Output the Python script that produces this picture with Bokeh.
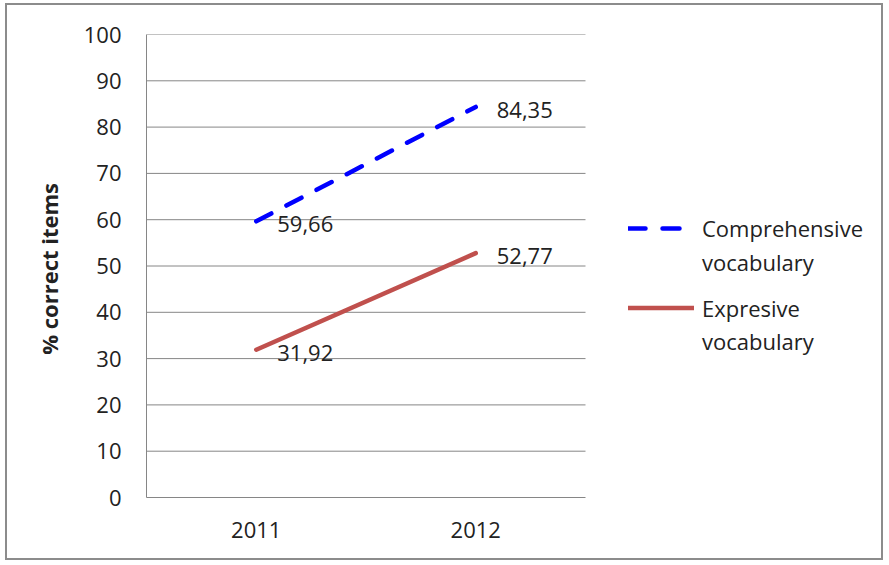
from bokeh.plotting import figure
from bokeh.models import (Range1d, FixedTicker, Legend, LegendItem, ColumnDataSource)
from bokeh.core.properties import value
from bokeh.embed import file_html
from bokeh.resources import INLINE

years = ["2011", "2012"]
comprehensive = [59.66, 84.35]
expresive = [31.92, 52.77]
comp_labels = ["59,66", "84,35"]
expr_labels = ["31,92", "52,77"]
y_ticks = [0, 10, 20, 30, 40, 50, 60, 70, 80, 90, 100]
legend_lines = [["Comprehensive", "vocabulary"], ["Expresive", "vocabulary"]]

FONT = "Open Sans"
GRID = "#868686"
TXT = "#222222"
FS = "22px"

# category positions 1..n; the plot area spans 0.5 .. n+0.5
pos = [i + 1 for i in range(len(years))]
n = len(years)
CANVAS_W, LEFT = 878, 139
BAND_PX = 219.5
x_end = 0.5 + (CANVAS_W - LEFT) / BAND_PX   # room on the right for the legend

# canvas placed at (7,5) inside a 2px border starting at (5,3)
p = figure(width=CANVAS_W, height=557, x_range=Range1d(0.5, x_end),
           y_range=Range1d(0, 100), output_backend="svg", toolbar_location=None,
           min_border_left=LEFT, min_border_right=0, min_border_top=29,
           min_border_bottom=65)
p.styles = {"border": "2px solid #8c8c8c", "margin-left": "5px", "margin-top": "3px"}
p.outline_line_color = None
p.background_fill_color = "white"
p.border_fill_color = "white"
p.grid.grid_line_color = None

p.yaxis.ticker = FixedTicker(ticks=y_ticks)
p.xaxis.ticker = FixedTicker(ticks=pos)
p.xaxis.major_label_overrides = {x: y for x, y in zip(pos, years)}
p.xaxis.bounds = (0.5, n + 0.5)

for ax in (p.xaxis[0], p.yaxis[0]):
    ax.axis_line_color = GRID
    ax.major_tick_line_color = None
    ax.minor_tick_line_color = None
    ax.major_tick_out = 0
    ax.major_tick_in = 0
    ax.minor_tick_out = 0
    ax.major_label_text_font = FONT
    ax.major_label_text_font_size = FS
    ax.major_label_text_color = TXT

p.yaxis.major_label_standoff = 25
p.xaxis.major_label_standoff = 24
p.yaxis.axis_label = "% correct  items"
p.yaxis.axis_label_text_font = FONT
p.yaxis.axis_label_text_font_style = "bold"
p.yaxis.axis_label_text_font_size = "22px"
p.yaxis.axis_label_text_color = TXT
p.yaxis.axis_label_standoff = 17

# horizontal gridlines limited to the plot area
gy = y_ticks[1:]
p.segment(x0=[0.5] * len(gy), x1=[n + 0.5] * len(gy), y0=gy, y1=gy,
          line_color=GRID, line_width=1)

src = ColumnDataSource(dict(x=pos, comp=comprehensive, expr=expresive,
                            cl=comp_labels, el=expr_labels))

r1 = p.line("x", "comp", source=src, line_color="#0000ff", line_width=4.5,
            line_dash="17 17", line_cap="round")
r2 = p.line("x", "expr", source=src, line_color="#c0504d", line_width=4.5,
            line_cap="round")
blank = p.line(x=[], y=[], line_alpha=0)

for col, yc in (("cl", "comp"), ("el", "expr")):
    p.text("x", yc, text=col, source=src, x_offset=21, y_offset=3,
           text_align="left", text_baseline="middle",
           text_font=value(FONT), text_font_size=FS, text_color=TXT)


def make_legend(lines, rend, loc, gw, standoff, gh):
    return Legend(items=[LegendItem(label=lines[0], renderers=[rend]),
                         LegendItem(label=lines[1], renderers=[blank])],
                  location=loc, border_line_color=None, background_fill_alpha=0,
                  label_text_font=FONT, label_text_font_size=FS,
                  label_text_color=TXT, glyph_width=gw, glyph_height=gh,
                  label_height=gh, label_standoff=standoff, spacing=0,
                  padding=0, margin=0)


p.add_layout(make_legend(legend_lines[0], r1, (482, 218), 56, 18, 34))
p.add_layout(make_legend(legend_lines[1], r2, (482, 140), 66, 8, 33))

open("out.html", "w").write(file_html(p, INLINE))
